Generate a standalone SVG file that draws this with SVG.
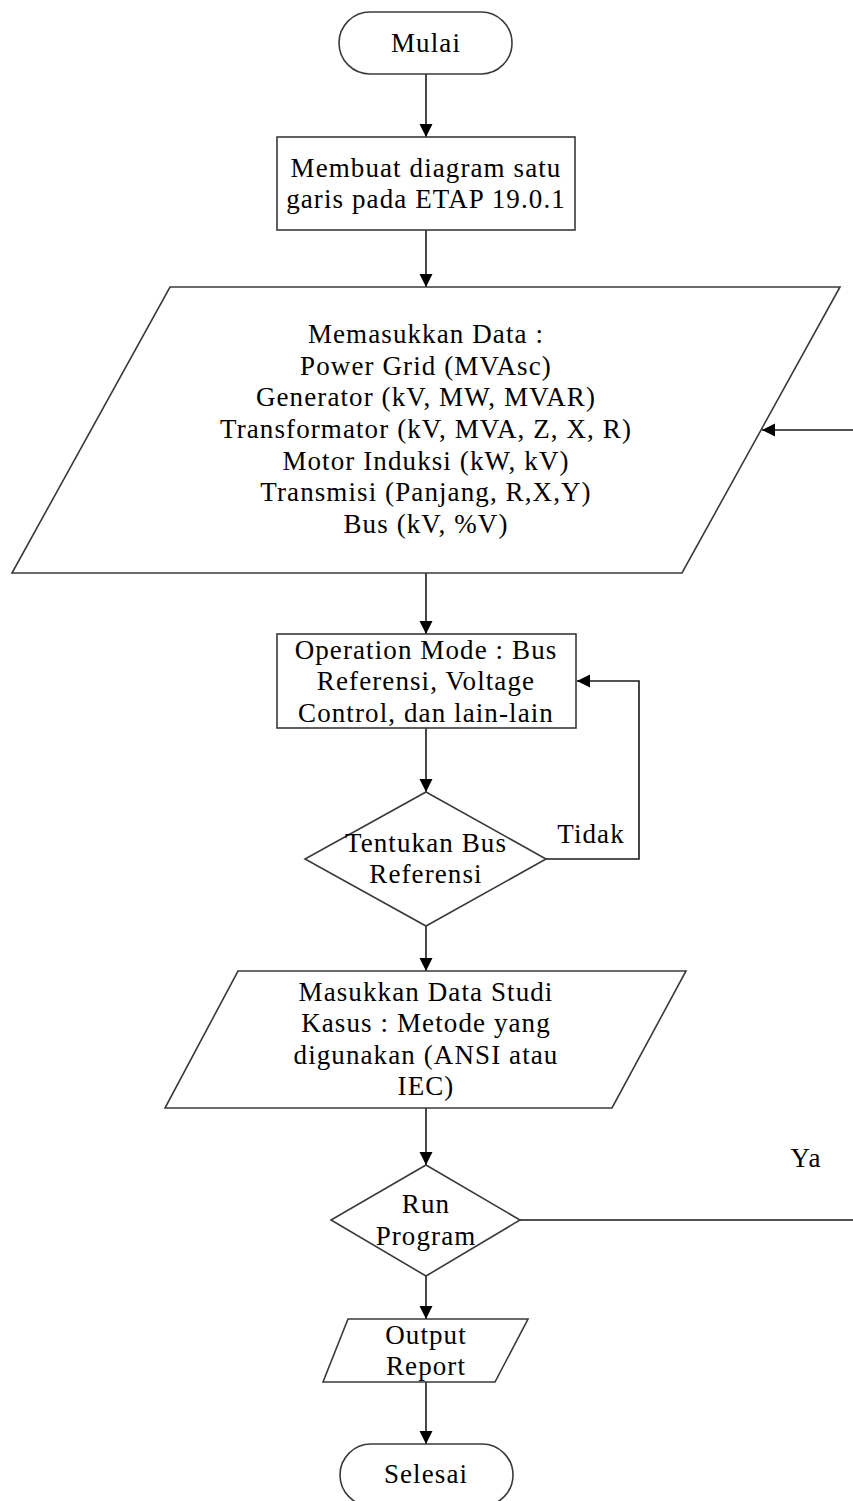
<svg xmlns="http://www.w3.org/2000/svg" width="853" height="1501" viewBox="0 0 853 1501">
<style>
.shape{fill:#ffffff;stroke:#3a3a3a;stroke-width:1.6}
.conn{fill:none;stroke:#1a1a1a;stroke-width:1.6}
.t{font-family:"Liberation Serif","Times New Roman",serif;font-size:27px;fill:#000000;text-anchor:middle;letter-spacing:1.1px}
</style>
<defs>
<marker id="arr" markerUnits="userSpaceOnUse" markerWidth="14" markerHeight="14" refX="13" refY="6.5" orient="auto">
<path d="M0,0 L13,6.5 L0,13 z" fill="#000000"/>
</marker>
</defs>
<rect width="853" height="1501" fill="#ffffff"/>
<g id="connectors">
<path class="conn" d="M426,74 V137" marker-end="url(#arr)"/>
<path class="conn" d="M426,230 V287" marker-end="url(#arr)"/>
<path class="conn" d="M426,573 V634" marker-end="url(#arr)"/>
<path class="conn" d="M426,728 V792" marker-end="url(#arr)"/>
<path class="conn" d="M546,859 H639 V681 H577" marker-end="url(#arr)"/>
<path class="conn" d="M426,926 V971" marker-end="url(#arr)"/>
<path class="conn" d="M426,1108 V1165" marker-end="url(#arr)"/>
<path class="conn" d="M426,1276 V1319" marker-end="url(#arr)"/>
<path class="conn" d="M426,1382 V1444" marker-end="url(#arr)"/>
<path class="conn" d="M520,1220 H870 V430 H762" marker-end="url(#arr)"/>
<text class="t" x="591" y="843">Tidak</text>
<text class="t" x="806" y="1167">Ya</text>
</g>
<g id="start">
<rect class="shape" x="339" y="12" width="173" height="62" rx="31" ry="31"/>
<text class="t" x="426" y="52">Mulai</text>
</g>
<g id="diagram">
<rect class="shape" x="277" y="137" width="298" height="93"/>
<text class="t" x="426" y="177">Membuat diagram satu</text>
<text class="t" x="426" y="208">garis pada ETAP 19.0.1</text>
</g>
<g id="input-data">
<polygon class="shape" points="170,287 840,287 682,573 12,573"/>
<text class="t" x="426" y="343">Memasukkan Data :</text>
<text class="t" x="426" y="375">Power Grid (MVAsc)</text>
<text class="t" x="426" y="406">Generator (kV, MW, MVAR)</text>
<text class="t" x="426" y="438">Transformator (kV, MVA, Z, X, R)</text>
<text class="t" x="426" y="470">Motor Induksi (kW, kV)</text>
<text class="t" x="426" y="501">Transmisi (Panjang, R,X,Y)</text>
<text class="t" x="426" y="533">Bus (kV, %V)</text>
</g>
<g id="operation-mode">
<rect class="shape" x="277" y="634" width="299" height="94"/>
<text class="t" x="426" y="659">Operation Mode : Bus</text>
<text class="t" x="426" y="690">Referensi, Voltage</text>
<text class="t" x="426" y="722">Control, dan lain-lain</text>
</g>
<g id="bus-ref">
<polygon class="shape" points="426,792 546,859 426,926 305,859"/>
<text class="t" x="426" y="852">Tentukan Bus</text>
<text class="t" x="426" y="883">Referensi</text>
</g>
<g id="study-case">
<polygon class="shape" points="238,971 686,971 612,1108 165,1108"/>
<text class="t" x="426" y="1001">Masukkan Data Studi</text>
<text class="t" x="426" y="1032">Kasus : Metode yang</text>
<text class="t" x="426" y="1064">digunakan (ANSI atau</text>
<text class="t" x="426" y="1095">IEC)</text>
</g>
<g id="run-program">
<polygon class="shape" points="426,1165 520,1220 426,1276 331,1220"/>
<text class="t" x="426" y="1213">Run</text>
<text class="t" x="426" y="1245">Program</text>
</g>
<g id="output">
<polygon class="shape" points="348,1319 528,1319 495,1382 323,1382"/>
<text class="t" x="426" y="1344">Output</text>
<text class="t" x="426" y="1375">Report</text>
</g>
<g id="end">
<rect class="shape" x="340" y="1444" width="173" height="62" rx="31" ry="31"/>
<text class="t" x="426" y="1483">Selesai</text>
</g>
</svg>
